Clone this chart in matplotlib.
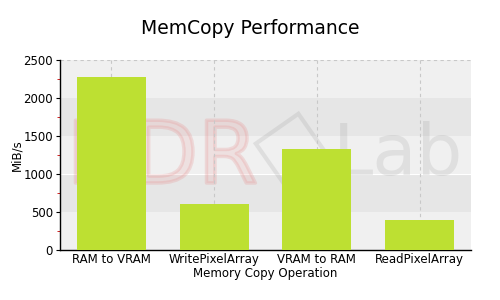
import matplotlib
matplotlib.use("Agg")
import matplotlib.pyplot as plt
import matplotlib.patheffects as pe
from matplotlib.patches import Rectangle
from matplotlib.transforms import Affine2D
from matplotlib.ticker import MultipleLocator

categories = ["RAM to VRAM", "WritePixelArray", "VRAM to RAM", "ReadPixelArray"]
values = [2280, 600, 1330, 390]

plt.rcParams["font.family"] = ["DejaVu Sans"]

fig = plt.figure(figsize=(5, 3), dpi=100, facecolor="white")
ax = fig.add_axes([0.12, 0.167, 0.822, 0.633])

# 交替背景带
band_colors = ["#f0f0f0", "#e6e6e6"]
for i, lo in enumerate(range(0, 2500, 500)):
    ax.axhspan(lo, lo + 500, color=band_colors[i % 2], zorder=0, lw=0)
ax.axhline(1000, color="white", lw=0.8, zorder=0.5)

# 水印 HDR + 徽标 + Lab（很淡）
ax.text(0.134, 0.39, "HDR", transform=fig.transFigure, fontsize=62,
        color=(0.9, 0.55, 0.55, 0.08), ha="left", va="baseline", zorder=1,
        path_effects=[pe.withStroke(linewidth=2.5, foreground=(0.9, 0.5, 0.5, 0.22))])
ax.text(0.666, 0.417, "Lab", transform=fig.transFigure, fontsize=52,
        color=(0.55, 0.55, 0.55, 0.17), ha="left", va="baseline", zorder=1)
logo = Rectangle((-26, -26), 52, 52, facecolor="none",
                 edgecolor=(0.6, 0.6, 0.6, 0.2), lw=3, zorder=1, clip_on=False)
ax.add_patch(logo)
logo.set_transform(Affine2D().rotate_deg(35).translate(292, 150))

x = range(len(categories))
ax.bar(x, values, width=0.67, color="#bde032", zorder=3)

ax.set_xlim(-0.5, len(categories) - 0.5)
ax.set_ylim(0, 2500)
ax.yaxis.set_major_locator(MultipleLocator(500))
ax.yaxis.set_minor_locator(MultipleLocator(250))
ax.tick_params(axis="y", which="minor", length=2, color="#cc0000")
ax.tick_params(axis="y", which="major", length=3, pad=2, labelsize=8.5)
ax.tick_params(axis="x", length=0, labelsize=8.5, pad=2)
ax.set_xticks(list(x))
ax.set_xticklabels(categories)

for xi in x:
    ax.axvline(xi, color="#c8c8c8", lw=0.8, ls=(0, (3, 3)), zorder=2)
ax.axhline(2500, color="#c8c8c8", lw=0.8, ls=(0, (3, 3)), zorder=2)

for side in ("top", "right"):
    ax.spines[side].set_visible(False)
ax.spines["left"].set_linewidth(1)
ax.spines["bottom"].set_linewidth(1)

ax.set_ylabel("MiB/s", fontsize=8.5, labelpad=0)
ax.set_xlabel("Memory Copy Operation", fontsize=8.5, labelpad=1)
fig.text(0.5, 0.905, "MemCopy Performance", ha="center", va="center", fontsize=13.5)

fig.savefig("out.png", dpi=100, facecolor="white")
